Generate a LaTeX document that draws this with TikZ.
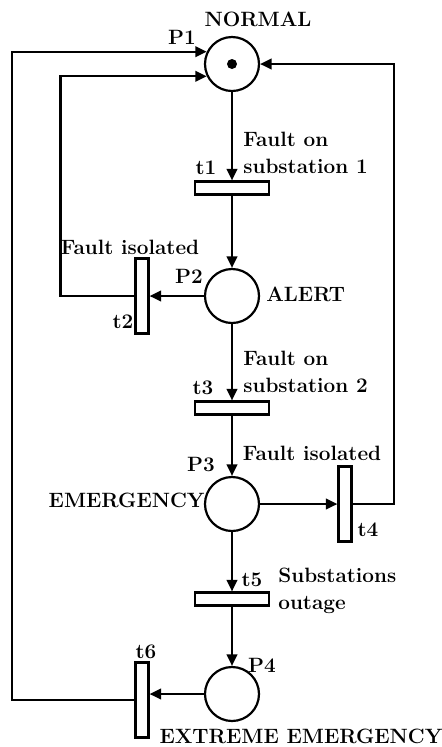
\documentclass[tikz,border=0pt]{standalone}
\usepackage{tikz}
\usetikzlibrary{arrows.meta, calc, positioning}

\begin{document}
\begin{tikzpicture}[
    pl/.style={draw, circle, line width=1.25pt, minimum size=1.08cm, inner sep=0pt},
    trh/.style={draw, line width=1.25pt, minimum width=1.48cm, minimum height=0.26cm, inner sep=0pt},
    trv/.style={draw, line width=1.25pt, minimum width=0.26cm, minimum height=1.5cm, inner sep=0pt},
    arr/.style={-{Triangle[length=6.5pt, width=6pt]}, line width=1.25pt},
    lbl/.style={font=\fontsize{11.8}{15}\selectfont\bfseries, inner sep=0pt},
    node distance=2cm, on grid
  ]
  \useasboundingbox (0,0) rectangle (8.82,-14.94);

  % Stellen und Transitionen von oben nach unten
  \node[pl] (p1) at (4.64,-1.28) {};
  \node[fill, circle, inner sep=0pt, minimum size=0.2cm] (tok) at (p1) {};
  \node[trh, below=2.48cm of p1] (t1) {};
  \node[pl, below=2.16cm of t1] (p2) {};
  \node[trv, left=1.8cm of p2] (t2) {};
  \node[trh, below=2.24cm of p2] (t3) {};
  \node[pl, below=1.92cm of t3] (p3) {};
  \node[trv, right=2.26cm of p3] (t4) {};
  \node[trh, below=1.9cm of p3] (t5) {};
  \node[pl, below=1.9cm of t5] (p4) {};
  \node[trv, left=1.8cm of p4, yshift=-0.12cm] (t6) {};

  % Pfeile
  \draw[arr] (p1) -- (t1);
  \draw[arr] (t1) -- (p2);
  \draw[arr] (p2) -- (t2);
  \draw[arr] (p2) -- (t3);
  \draw[arr] (t3) -- (p3);
  \draw[arr] (p3) -- (t4);
  \draw[arr] (p3) -- (t5);
  \draw[arr] (t5) -- (p4);
  \draw[arr] (p4.west) -- (p4.west -| t6.east);

  % Rueckfuehrungen nach P1
  \draw[arr] (t2.west) -- ++(-1.48,0) |- (p1.206);
  \draw[arr] (t6.west) -- ++(-2.44,0) |- (p1.154);
  \draw[arr] (t4.east) -- ++(0.82,0) |- (p1.east);

  % Beschriftungen
  \node[lbl] (normal) at ($(p1)+(0.52,0.89)$) {NORMAL};
  \node[lbl] (p1l) at ($(p1)+(-1.0,0.54)$) {P1};
  \node[lbl, anchor=west, align=left] (ev1) at ($(t1)+(0.22,0.70)$) {Fault on\\substation 1};
  \node[lbl] (t1l) at ($(t1)+(-0.52,0.40)$) {t1};
  \node[lbl] (p2l) at ($(p2)+(-0.86,0.40)$) {P2};
  \node[lbl, anchor=west] (alert) at ($(p2)+(0.68,0.04)$) {ALERT};
  \node[lbl] (ev2) at ($(t2)+(-0.24,0.98)$) {Fault isolated};
  \node[lbl] (t2l) at ($(t2)+(-0.38,-0.52)$) {t2};
  \node[lbl, anchor=west, align=left] (ev3) at ($(t3)+(0.22,0.72)$) {Fault on\\substation 2};
  \node[lbl] (t3l) at ($(t3)+(-0.58,0.40)$) {t3};
  \node[lbl] (p3l) at ($(p3)+(-0.62,0.78)$) {P3};
  \node[lbl] (ev4) at ($(t4)+(-0.66,1.02)$) {Fault isolated};
  \node[lbl, anchor=east] (emerg) at ($(p3.west)+(0.02,0.08)$) {EMERGENCY};
  \node[lbl] (t4l) at ($(t4)+(0.46,-0.52)$) {t4};
  \node[lbl] (t5l) at ($(t5)+(0.40,0.38)$) {t5};
  \node[lbl, anchor=west, align=left] (ev5) at ($(t5)+(0.92,0.16)$) {Substations\\outage};
  \node[lbl] (p4l) at ($(p4)+(0.60,0.58)$) {P4};
  \node[lbl] (t6l) at ($(t6)+(0.08,0.96)$) {t6};
  \node[lbl] (extreme) at ($(p4)+(1.38,-0.84)$) {EXTREME EMERGENCY};
\end{tikzpicture}
\end{document}
